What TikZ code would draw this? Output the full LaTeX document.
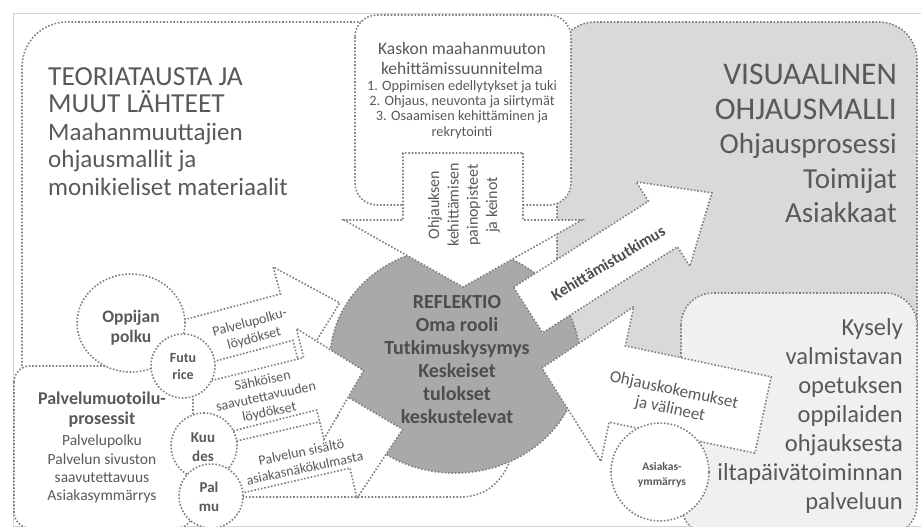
\documentclass[tikz,border=0pt]{standalone}
\usepackage{fontspec}
\usetikzlibrary{shapes.geometric}
\setmainfont{Carlito}
\definecolor{dotgray}{HTML}{808080}
\definecolor{txtgray}{HTML}{595959}
\definecolor{boldgray}{HTML}{4D4D4D}
\definecolor{blobgray}{HTML}{A9A9A9}
\definecolor{panelgray}{HTML}{D9D9D9}
\definecolor{softgray}{HTML}{F0F0F0}
\definecolor{framegray}{HTML}{D4D4D4}
% block arrow: tail centre (#1,#2), direction #3, shaft length #4,
% shaft half width #5, head half width #6, head length #7
\newcommand\blockarrow[7]{%
  \begin{scope}[shift={(#1,#2)},rotate=#3]
    \draw[arrowbox] (0,-#5) -- (#4,-#5) -- (#4,-#6) -- ({#4+#7},0)
      -- (#4,#6) -- (#4,#5) -- (0,#5) -- cycle;
  \end{scope}}
\newcommand\capsline[2]{{\fontsize{#1}{#1}\selectfont #2}}
\begin{document}
\begin{tikzpicture}[x=1pt,y=-1pt,
  dots/.style={draw=dotgray, line width=1.6pt, dash pattern=on 1.6pt off 1.8pt},
  arrowbox/.style={dots, fill=white},
  ring/.style={dots, fill=white, circle, inner sep=0pt},
  txt/.style={text=txtgray, inner sep=0pt}]
\useasboundingbox (0,0) rectangle (921,527);
% page frame
\draw[framegray, line width=0.6pt] (13,13) rectangle (930,526);

% background theory panel: only its top and left sides stay visible
\draw[dots, rounded corners=45] (362,22) -- (22,22) -- (22,368);

% visual guidance model panel
\draw[dots, fill=panelgray, rounded corners=38] (557,22) rectangle (917,362);

% Kasko development plan box
\draw[dots, fill=white, rounded corners=22] (355,15) rectangle (571,205);

% reflection area
\draw[dots, fill=blobgray] (455,360) ellipse [x radius=125pt, y radius=113pt];

% arrow from the plan down into the reflection
\blockarrow{463}{153}{-90}{67}{60}{119}{67}
% development research arrow
\blockarrow{528}{310}{32.5}{160}{27}{50}{58}

% survey panel
\draw[dots, fill=softgray, rounded corners=32] (681,293) rectangle (917,536);

% guidance experience arrow
\blockarrow{763}{415}{168}{149}{39}{79}{77}
\node[ring, minimum size=98pt] (customer) at (660,472) {};

% lower outline towards the reflection area
\draw[dots] (215,497) -- (460,497) .. controls (484,497) and (500,484) .. (509,463);

% findings arrows
\blockarrow{196}{477}{13}{152}{26}{57}{60}
\blockarrow{170.7}{348.2}{15}{120}{24}{52}{55}
\blockarrow{185}{415}{14}{129}{27}{57}{55}

% service design panel
\draw[dots, fill=white, rounded corners=16] (14,366) rectangle (193,528);

% sources
\node[dots, fill=white, ellipse, minimum width=108pt, minimum height=98pt, inner sep=0pt] (learner) at (131,323) {};
\node[ring, minimum size=64pt] (futurice) at (183,366) {};
\node[ring, minimum size=66pt] (kuudes) at (204,446) {};
\node[ring, minimum size=64pt] (palmu) at (211,496) {};

% texts
\node[txt, anchor=north west, align=left, font=\fontsize{25}{27.5}\selectfont] (theory) at (48,67)
  {\capsline{27.5}{TEORIATAUSTA JA}\\\capsline{27.5}{MUUT LÄHTEET}\\Maahanmuuttajien\\ohjausmallit ja\\monikieliset materiaalit};
\node[txt, anchor=north east, align=right, font=\fontsize{29}{34.5}\selectfont] (visual) at (897,64)
  {\capsline{31.5}{VISUAALINEN}\\\capsline{31.5}{OHJAUSMALLI}\\Ohjausprosessi\\Toimijat\\Asiakkaat};
\node[txt, anchor=north east, align=right, font=\fontsize{24.5}{29}\selectfont] (survey) at (903,318)
  {Kysely\\valmistavan\\opetuksen\\oppilaiden\\ohjauksesta\\iltapäivätoiminnan\\palveluun};
\node[txt, anchor=north, align=center, font=\fontsize{17.5}{20}\selectfont] (plan) at (462,42)
  {Kaskon maahanmuuton\\kehittämissuunnitelma};
\node[txt, anchor=north, align=center, font=\fontsize{14.3}{15.4}\selectfont] (planlist) at (462,80)
  {1. Oppimisen edellytykset ja tuki\\2. Ohjaus, neuvonta ja siirtymät\\3. Osaamisen kehittäminen ja\\rekrytointi};
\node[txt, rotate=90, align=center, font=\fontsize{16}{19.3}\selectfont] (focus) at (464,205)
  {Ohjauksen\\kehittämisen\\painopisteet\\ja keinot};
\node[txt, text=boldgray, align=center, font=\bfseries\fontsize{20}{23}\selectfont] (reflection) at (457,360)
  {REFLEKTIO\\Oma rooli\\Tutkimuskysymys\\Keskeiset\\tulokset\\keskustelevat};
\node[txt, align=center, font=\bfseries\fontsize{17.5}{20}\selectfont] (learnertext) at (131,328) {Oppijan\\polku};
\node[txt, align=center, font=\bfseries\fontsize{14}{17}\selectfont] (futuricetext) at (183,367) {Futu\\rice};
\node[txt, align=center, font=\bfseries\fontsize{15}{19}\selectfont] (kuudestext) at (203,447) {Kuu\\des};
\node[txt, align=center, font=\bfseries\fontsize{15}{19}\selectfont] (palmutext) at (209,497) {Pal\\mu};
\node[txt, align=center, font=\bfseries\fontsize{11.5}{15}\selectfont] (customertext) at (662,475) {Asiakas-\\ymmärrys};
\node[txt, anchor=north, align=center, font=\bfseries\fontsize{18}{20}\selectfont] (servtitle) at (102,392)
  {Palvelumuotoilu-\\prosessit};
\node[txt, anchor=north, align=center, font=\fontsize{15.5}{18.2}\selectfont] (servitems) at (102,435)
  {Palvelupolku\\Palvelun sivuston\\saavutettavuus\\Asiakasymmärrys};
\node[txt, rotate=15, align=center, font=\fontsize{14}{16.5}\selectfont] (pathtext) at (252,331)
  {Palvelupolku-\\löydökset};
\node[txt, rotate=12, align=center, font=\fontsize{14}{16}\selectfont] (accesstext) at (266,397)
  {Sähköisen\\saavutettavuuden\\löydökset};
\node[txt, rotate=12, align=center, font=\fontsize{14}{16.5}\selectfont] (contenttext) at (303,460)
  {Palvelun sisältö\\asiakasnäkökulmasta};
\node[txt, text=boldgray, rotate=31, font=\bfseries\fontsize{16}{19}\selectfont] (devtext) at (608,263)
  {Kehittämistutkimus};
\node[txt, rotate=-12, align=center, font=\fontsize{17}{19}\selectfont] (exptext) at (672,400)
  {Ohjauskokemukset\\ja välineet};
\end{tikzpicture}
\end{document}
